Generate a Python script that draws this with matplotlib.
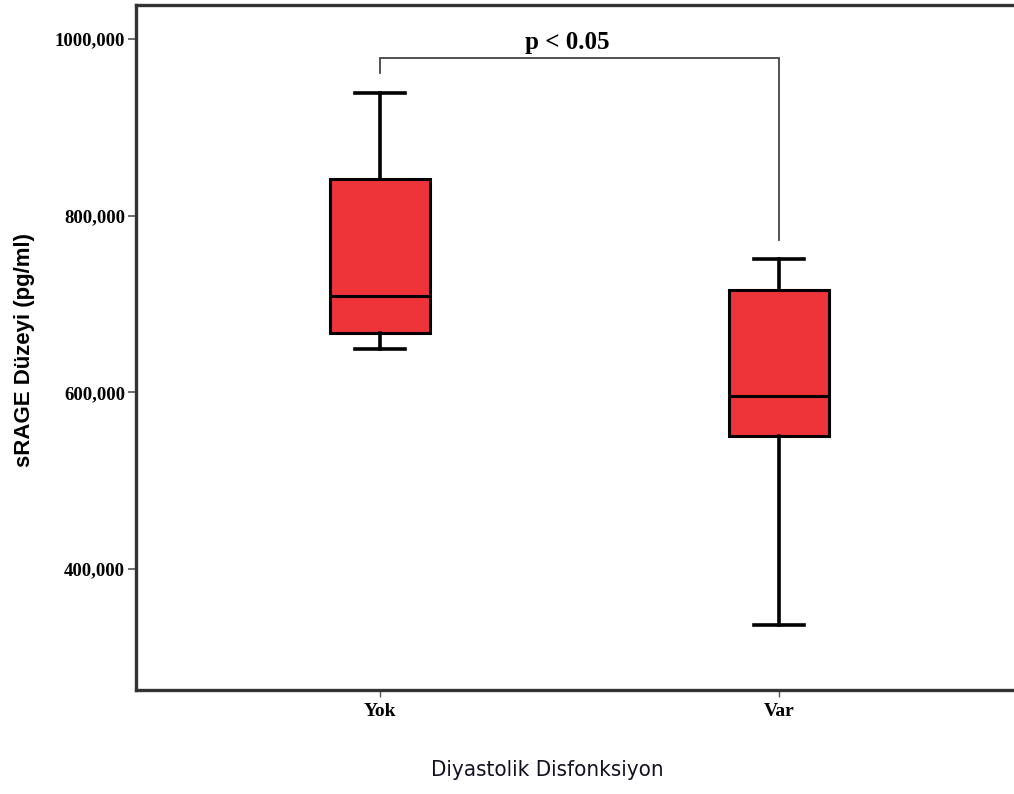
import numpy as np
import matplotlib.pyplot as plt
from matplotlib.ticker import FuncFormatter

# sRAGE (pg/ml) box summaries per group
groups = ['Yok', 'Var']
whislo = [649.0, 337.0]
q1 = [667.0, 551.0]
med = [709.0, 596.0]
q3 = [841.5, 716.0]
whishi = [939.0, 751.0]

yticks = [400, 600, 800, 1000]
p_text = 'p < 0.05'
bracket_top = 979.0
bracket_ends = [962.0, 772.0]

serif_bold = dict(family=['Liberation Serif', 'DejaVu Serif'], fontweight='bold')

fig = plt.figure(figsize=(10.14, 7.94), dpi=100)
ax = fig.add_axes([136/1014, 104/794, 887/1014, 685/794])

stats = []
for i, g in enumerate(groups):
    stats.append(dict(label=g, whislo=whislo[i], q1=q1[i], med=med[i],
                      q3=q3[i], whishi=whishi[i], fliers=[]))

pos = np.arange(1, len(groups) + 1)
ax.bxp(stats, positions=pos, widths=0.25, patch_artist=True, showfliers=False,
       boxprops=dict(facecolor='#ee3339', edgecolor='black', linewidth=2.2),
       medianprops=dict(color='black', linewidth=2.2),
       whiskerprops=dict(color='black', linewidth=2.6),
       capprops=dict(color='black', linewidth=2.6),
       capwidths=0.125)

# significance bracket
ax.plot([pos[0], pos[0], pos[1], pos[1]],
        [bracket_ends[0], bracket_top, bracket_top, bracket_ends[1]],
        color='#444444', lw=1.3, solid_joinstyle='miter')
ax.text(pos.mean() - 0.03, bracket_top + 4, p_text, ha='center', va='bottom',
        fontsize=18, **serif_bold)

ax.set_xlim(0.3885, 2.6115)
ax.set_ylim(263.2, 1038.5)
ax.set_yticks(yticks)
ax.yaxis.set_major_formatter(FuncFormatter(lambda v, p: f'{v:.3f}'.replace('.', ',')))
ax.set_xticks(pos)
ax.set_xticklabels(groups)

for lab in ax.get_yticklabels() + ax.get_xticklabels():
    lab.set_family(['Liberation Serif', 'DejaVu Serif'])
    lab.set_fontweight('bold')
for lab in ax.get_yticklabels():
    lab.set_fontsize(13.5)
for lab in ax.get_xticklabels():
    lab.set_fontsize(14)

ax.tick_params(axis='y', length=6, width=1.2, color='#555555', pad=2)
ax.tick_params(axis='x', length=5, width=1.0, color='#555555', pad=4)

for side in ['left', 'bottom', 'top', 'right']:
    ax.spines[side].set_linewidth(2.4)
    ax.spines[side].set_color('#333333')

fig.text(25/1014, 1 - 350/794, 'sRAGE Düzeyi (pg/ml)', rotation=90,
         ha='center', va='center', fontsize=16, fontweight='bold',
         family=['Liberation Sans', 'DejaVu Sans'])
fig.text(547/1014, 1 - 770/794, 'Diyastolik Disfonksiyon', ha='center', va='center',
         fontsize=16, color='#111122', fontstretch='condensed',
         family=['DejaVu Sans'])

fig.savefig('out.png', dpi=100, facecolor='white')
